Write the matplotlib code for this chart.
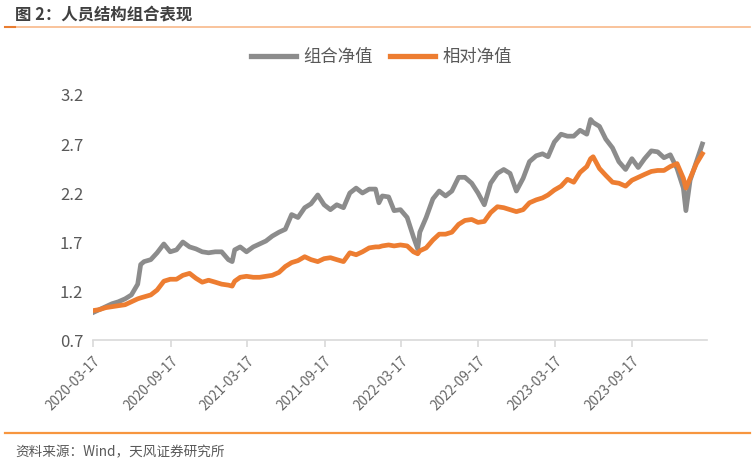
import matplotlib
matplotlib.use('Agg')
import matplotlib.pyplot as plt
import pandas as pd
from matplotlib.lines import Line2D

plt.rcParams['font.family'] = ['Noto Sans CJK SC', 'DejaVu Sans']

# values (about twice a month)
dates = ['2020-03-17', '2020-04-01', '2020-04-16', '2020-05-01', '2020-05-16', '2020-06-01',
         '2020-06-16', '2020-07-01', '2020-07-08', '2020-07-16', '2020-08-01', '2020-08-16',
         '2020-09-01', '2020-09-16', '2020-10-01', '2020-10-16', '2020-11-01', '2020-11-16',
         '2020-12-01', '2020-12-16', '2021-01-01', '2021-01-16', '2021-02-01', '2021-02-10',
         '2021-02-16', '2021-03-01', '2021-03-16', '2021-04-01', '2021-04-16', '2021-05-01',
         '2021-05-16', '2021-06-01', '2021-06-16', '2021-07-01', '2021-07-16', '2021-08-01',
         '2021-08-16', '2021-09-01', '2021-09-16', '2021-10-01', '2021-10-16', '2021-11-01',
         '2021-11-16', '2021-12-01', '2021-12-16', '2022-01-01', '2022-01-16', '2022-01-24',
         '2022-02-01', '2022-02-16', '2022-03-01', '2022-03-16', '2022-04-01', '2022-04-16',
         '2022-04-26', '2022-05-01', '2022-05-16', '2022-06-01', '2022-06-16', '2022-07-01',
         '2022-07-16', '2022-08-01', '2022-08-16', '2022-09-01', '2022-09-16', '2022-10-01',
         '2022-10-16', '2022-11-01', '2022-11-16', '2022-12-01', '2022-12-16', '2023-01-01',
         '2023-01-16', '2023-02-01', '2023-02-16', '2023-03-01', '2023-03-16', '2023-04-01',
         '2023-04-16', '2023-05-01', '2023-05-16', '2023-06-01', '2023-06-10', '2023-06-16',
         '2023-07-01', '2023-07-16', '2023-08-01', '2023-08-16', '2023-09-01', '2023-09-16',
         '2023-10-01', '2023-10-16', '2023-11-01', '2023-11-16', '2023-12-01', '2023-12-16',
         '2024-01-01', '2024-01-16', '2024-01-22', '2024-02-01', '2024-02-16', '2024-03-01']

portfolio = [0.98, 1.01, 1.04, 1.07, 1.09, 1.12,
             1.16, 1.27, 1.47, 1.50, 1.52, 1.59,
             1.68, 1.60, 1.62, 1.70, 1.65, 1.63,
             1.60, 1.59, 1.60, 1.60, 1.52, 1.50,
             1.62, 1.65, 1.60, 1.65, 1.68, 1.71,
             1.76, 1.80, 1.83, 1.98, 1.95, 2.05,
             2.09, 2.18, 2.08, 2.03, 2.08, 2.05,
             2.20, 2.25, 2.20, 2.24, 2.24, 2.10,
             2.17, 2.16, 2.02, 2.03, 1.95, 1.75,
             1.63, 1.80, 1.95, 2.14, 2.22, 2.17,
             2.22, 2.36, 2.36, 2.30, 2.20, 2.08,
             2.30, 2.40, 2.44, 2.40, 2.22, 2.35,
             2.52, 2.58, 2.60, 2.57, 2.72, 2.80,
             2.78, 2.78, 2.84, 2.80, 2.95, 2.92,
             2.88, 2.75, 2.66, 2.52, 2.44, 2.55,
             2.46, 2.55, 2.63, 2.62, 2.56, 2.59,
             2.45, 2.25, 2.02, 2.33, 2.52, 2.70]

relative = [1.00, 1.01, 1.03, 1.04, 1.05, 1.06,
            1.09, 1.12, 1.13, 1.14, 1.16, 1.21,
            1.30, 1.32, 1.32, 1.36, 1.38, 1.33,
            1.29, 1.31, 1.29, 1.27, 1.26, 1.25,
            1.30, 1.34, 1.35, 1.34, 1.34, 1.35,
            1.36, 1.39, 1.45, 1.49, 1.51, 1.55,
            1.52, 1.50, 1.53, 1.54, 1.52, 1.50,
            1.59, 1.57, 1.60, 1.64, 1.65, 1.65,
            1.66, 1.67, 1.66, 1.67, 1.66, 1.60,
            1.58, 1.61, 1.64, 1.72, 1.78, 1.78,
            1.80, 1.88, 1.92, 1.93, 1.90, 1.91,
            2.00, 2.06, 2.05, 2.03, 2.01, 2.03,
            2.10, 2.13, 2.15, 2.18, 2.23, 2.27,
            2.34, 2.31, 2.41, 2.47, 2.55, 2.57,
            2.45, 2.38, 2.31, 2.30, 2.27, 2.33,
            2.36, 2.39, 2.42, 2.43, 2.43, 2.47,
            2.50, 2.35, 2.25, 2.35, 2.50, 2.60]

tick_dates = ['2020-03-17', '2020-09-17', '2021-03-17', '2021-09-17',
              '2022-03-17', '2022-09-17', '2023-03-17', '2023-09-17']
y_ticks = [0.7, 1.2, 1.7, 2.2, 2.7, 3.2]

x = pd.to_datetime(dates)
gray = '#8C8C8C'
orange = '#ED7D31'
text_color = '#595959'

fig = plt.figure(figsize=(7.55, 4.65), dpi=100)
ax = fig.add_axes([0.1232, 0.2688, 0.8132, 0.5269])

ax.plot(x, portfolio, color=gray, lw=3.4, solid_joinstyle='round')
ax.plot(x, relative, color=orange, lw=3.4, solid_joinstyle='round')

ax.set_ylim(0.7, 3.2)
ax.set_yticks(y_ticks)
ax.set_yticklabels([f'{v:.1f}' for v in y_ticks], fontsize=12, color=text_color)
ax.set_xlim(pd.Timestamp('2020-03-17'), pd.Timestamp('2024-03-12'))
ax.set_xticks(pd.to_datetime(tick_dates))
ax.set_xticklabels(tick_dates, rotation=45, ha='right', rotation_mode='anchor',
                   fontsize=9.8, color='#666666')

for s in ['top', 'right', 'left']:
    ax.spines[s].set_visible(False)
ax.spines['bottom'].set_color('#D9D9D9')
ax.spines['bottom'].set_linewidth(1.2)
ax.tick_params(axis='y', length=0, pad=7)
ax.tick_params(axis='x', length=5, color='#D9D9D9', width=1.2, pad=5)

handles = [Line2D([], [], color=gray, lw=3.8), Line2D([], [], color=orange, lw=3.8)]
fig.legend(handles, ['组合净值', '相对净值'], loc='center', bbox_to_anchor=(0.505, 0.877),
           ncol=2, frameon=False, fontsize=12.5, labelcolor=text_color,
           handlelength=2.6, columnspacing=1.0, handletextpad=0.4)

# header and footer
fig.text(0.02, 1 - 14 / 465, '图 2：人员结构组合表现', fontsize=11.8, fontweight='bold',
         color='#404040', va='center', ha='left')
fig.add_artist(Line2D([0.006, 0.994], [1 - 27 / 465] * 2, color='#F8B98A', lw=1.2))
fig.add_artist(Line2D([0.006, 0.02], [1 - 27 / 465] * 2, color='#E97D30', lw=1.5))
fig.add_artist(Line2D([0.006, 0.994], [1 - 433 / 465] * 2, color='#F7963F', lw=1.6))
fig.text(0.02, 1 - 452 / 465, '资料来源：Wind，天风证券研究所', fontsize=9.8,
         color=text_color, va='center', ha='left')

fig.savefig('out.png', dpi=100)
